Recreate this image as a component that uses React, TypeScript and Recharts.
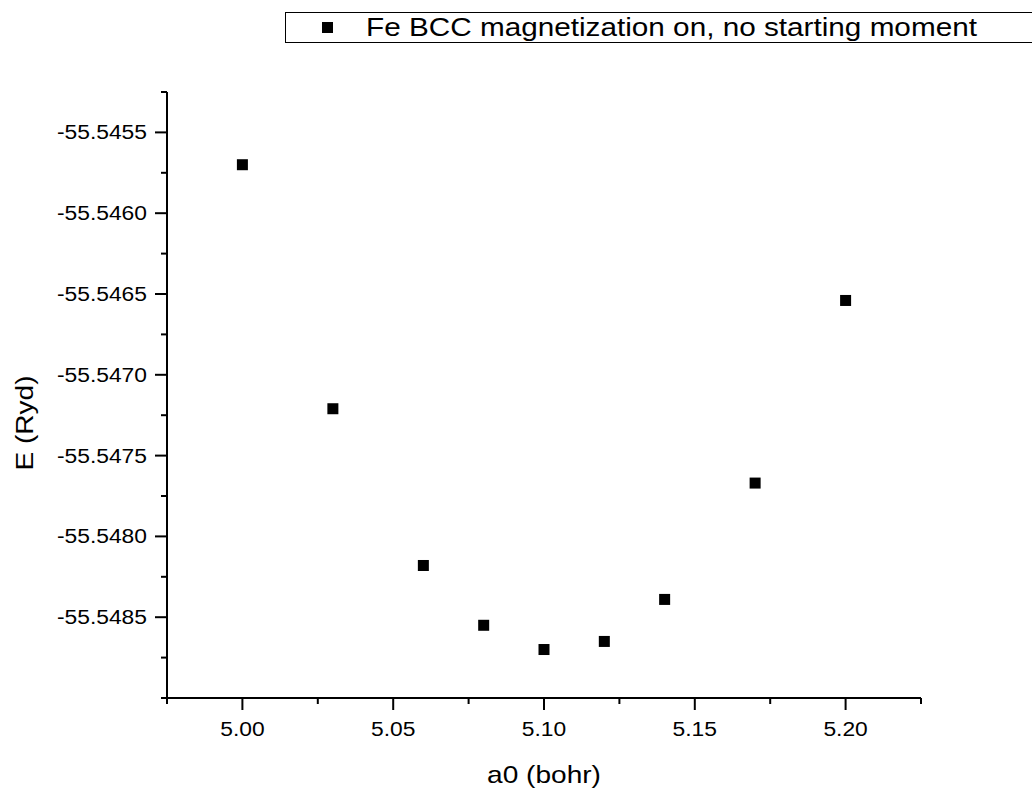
import React from 'react';
import { ScatterChart, Scatter, XAxis, YAxis, Legend, Label } from 'recharts';

const aValues = [5.0, 5.03, 5.06, 5.08, 5.1, 5.12, 5.14, 5.17, 5.2];
const energyValues = [-55.5457, -55.54721, -55.54818, -55.54855, -55.5487, -55.54865, -55.54839, -55.54767, -55.54654];
const seriesName = 'Fe BCC magnetization on, no starting moment';

const xMajorTicks = [5.0, 5.05, 5.1, 5.15, 5.2];
const xMinorTicks = [4.975, 5.025, 5.075, 5.125, 5.175, 5.225];
const yMajorTicks = [-55.5485, -55.548, -55.5475, -55.547, -55.5465, -55.546, -55.5455];
const yMinorTicks = [-55.549, -55.54875, -55.54825, -55.54775, -55.54725, -55.54675, -55.54625, -55.54575, -55.54525];

const xDomain = [4.975, 5.225];
const yDomain = [-55.549, -55.54525];
const xTitle = 'a0 (bohr)';
const yTitle = 'E (Ryd)';

const data = aValues.map((a, i) => ({ a, e: energyValues[i] }));
const FONT = '"Liberation Sans", Arial, sans-serif';
const SX = 1.17;

const isIn = (list: number[], v: number) => list.some((t) => Math.abs(t - v) < 1e-7);

const XTick = (props: any) => {
  const { x, y, payload } = props;
  const major = isIn(xMajorTicks, payload.value);
  return (
    <g>
      <line x1={x} x2={x} y1={y} y2={y + (major ? 12 : 6)} stroke="#000" strokeWidth={2} />
      {major && (
        <text transform={`translate(${x},${y + 38}) scale(${SX},1)`} textAnchor="middle" fontFamily={FONT} fontSize={19.5} fill="#000">
          {Number(payload.value).toFixed(2)}
        </text>
      )}
    </g>
  );
};

const YTick = (props: any) => {
  const { x, y, payload } = props;
  const major = isIn(yMajorTicks, payload.value);
  return (
    <g>
      <line x1={x - (major ? 12 : 6)} x2={x} y1={y} y2={y} stroke="#000" strokeWidth={2} />
      {major && (
        <text transform={`translate(${x - 20},${y}) scale(${SX},1)`} dy="0.355em" textAnchor="end" fontFamily={FONT} fontSize={19.5} fill="#000">
          {Number(payload.value).toFixed(4)}
        </text>
      )}
    </g>
  );
};

const SquareShape = (props: any) => {
  const { cx, cy } = props;
  return <rect x={cx - 5.5} y={cy - 5.5} width={11} height={11} fill="#000" />;
};

const LegendContent = () => (
  <div
    style={{
      position: 'relative',
      boxSizing: 'border-box',
      width: 760,
      height: 31,
      border: '1px solid #000',
      background: '#fff',
    }}
  >
    <div style={{ position: 'absolute', left: 36, top: 9, width: 11, height: 11, background: '#000' }} />
    <div
      style={{
        position: 'absolute',
        left: 80,
        top: -2,
        fontFamily: FONT,
        fontSize: 25.4,
        lineHeight: '32px',
        whiteSpace: 'nowrap',
        transform: `scaleX(${SX})`,
        transformOrigin: 'left center',
        color: '#000',
      }}
    >
      {seriesName}
    </div>
  </div>
);

export default function App() {
  return (
    <div style={{ position: 'absolute', left: 0, top: 0, width: 1032, height: 788, background: '#fff', overflow: 'hidden' }}>
      <ScatterChart width={1032} height={788} margin={{ top: 92, right: 111, bottom: 0, left: 0 }}>
        <XAxis
          type="number"
          dataKey="a"
          domain={xDomain}
          ticks={[...xMinorTicks, ...xMajorTicks].sort((p, q) => p - q)}
          interval={0}
          allowDataOverflow
          height={90}
          tickSize={0}
          tickMargin={0}
          tickLine={false}
          axisLine={{ stroke: '#000', strokeWidth: 2 }}
          tick={<XTick />}
        >
          <Label
            content={(p: any) => {
              const vb = p.viewBox;
              const cx = vb.x + vb.width / 2;
              return (
                <text transform={`translate(${cx},783) scale(${SX},1)`} textAnchor="middle" fontFamily={FONT} fontSize={24} fill="#000">
                  {xTitle}
                </text>
              );
            }}
          />
        </XAxis>
        <YAxis
          type="number"
          dataKey="e"
          domain={yDomain}
          ticks={[...yMinorTicks, ...yMajorTicks].sort((p, q) => p - q)}
          interval={0}
          allowDataOverflow
          width={167}
          tickSize={0}
          tickMargin={0}
          tickLine={false}
          axisLine={{ stroke: '#000', strokeWidth: 2 }}
          tick={<YTick />}
        >
          <Label
            content={() => (
              <text transform={`translate(33,423) rotate(-90) scale(${SX},1)`} textAnchor="middle" fontFamily={FONT} fontSize={24} fill="#000">
                {yTitle}
              </text>
            )}
          />
        </YAxis>
        <Legend
          layout="horizontal"
          verticalAlign="middle"
          wrapperStyle={{ position: 'absolute', left: 285, top: 12, width: 760, height: 31 }}
          content={<LegendContent />}
        />
        <Scatter name={seriesName} data={data} fill="#000" shape={<SquareShape />} isAnimationActive={false} />
      </ScatterChart>
    </div>
  );
}
